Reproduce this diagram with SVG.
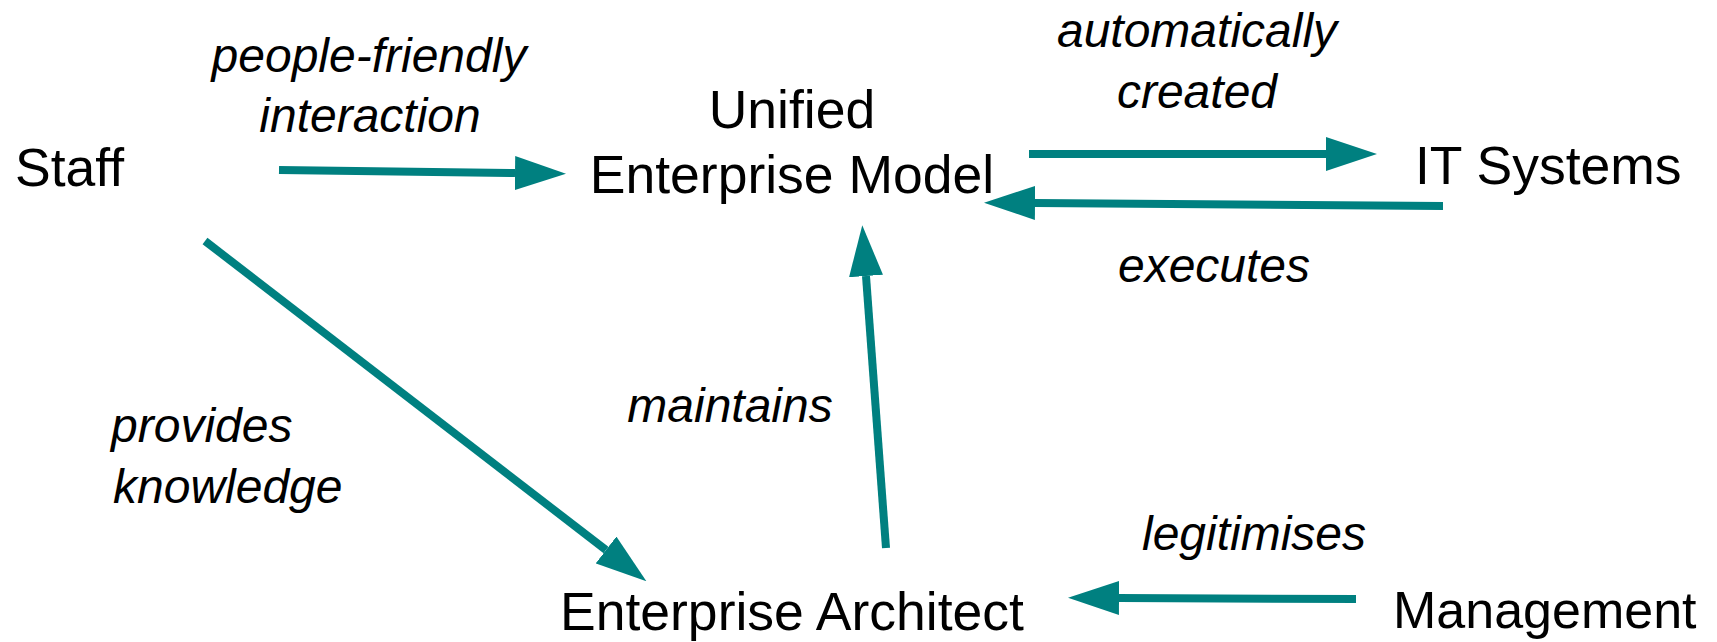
<svg xmlns="http://www.w3.org/2000/svg" width="1717" height="642" viewBox="0 0 1717 642">
  <style>
    .node { font-family: "Liberation Sans", Arial, sans-serif; font-size: 53.5px; fill: #000; }
    .lbl { font-family: "Liberation Sans", Arial, sans-serif; font-size: 48px; font-style: italic; fill: #000; }
    .edge { stroke: #008080; stroke-width: 8; fill: none; marker-end: url(#arrow); }
  </style>
  <defs>
    <marker id="arrow" viewBox="0 0 51 34" markerWidth="51" markerHeight="34" markerUnits="userSpaceOnUse" refX="0" refY="17" orient="auto">
      <path d="M0,0 L51,17 L0,34 Z" fill="#008080"/>
    </marker>
  </defs>
  <rect width="1717" height="642" fill="#fff"/>

  <g id="connectors">
    <g id="e-staff-uem">
      <line class="edge" x1="279" y1="170" x2="515" y2="173"/>
      <text class="lbl" x="369" y="72" text-anchor="middle">people-friendly</text>
      <text class="lbl" x="370" y="132" text-anchor="middle">interaction</text>
    </g>
    <g id="e-uem-it">
      <line class="edge" x1="1029" y1="154" x2="1326" y2="154"/>
      <text class="lbl" x="1197" y="47" text-anchor="middle">automatically</text>
      <text class="lbl" x="1197" y="108" text-anchor="middle">created</text>
    </g>
    <g id="e-it-uem">
      <line class="edge" x1="1443" y1="206" x2="1035" y2="203"/>
      <text class="lbl" x="1214" y="282" text-anchor="middle">executes</text>
    </g>
    <g id="e-staff-ea">
      <line class="edge" x1="205" y1="241" x2="606" y2="550"/>
      <text class="lbl" x="111" y="442">provides</text>
      <text class="lbl" x="113" y="503">knowledge</text>
    </g>
    <g id="e-ea-uem">
      <line class="edge" x1="886" y1="548" x2="866" y2="276"/>
      <text class="lbl" x="730" y="422" text-anchor="middle">maintains</text>
    </g>
    <g id="e-mgmt-ea">
      <line class="edge" x1="1356" y1="599" x2="1119" y2="598"/>
      <text class="lbl" x="1254" y="550" text-anchor="middle">legitimises</text>
    </g>
  </g>

  <g id="staff">
    <text class="node" x="15" y="186">Staff</text>
  </g>
  <g id="uem">
    <text class="node" x="792" y="128" text-anchor="middle">Unified</text>
    <text class="node" x="792" y="193" text-anchor="middle">Enterprise Model</text>
  </g>
  <g id="it-systems">
    <text class="node" x="1415" y="184">IT Systems</text>
  </g>
  <g id="enterprise-architect">
    <text class="node" x="560" y="630">Enterprise Architect</text>
  </g>
  <g id="management">
    <text class="node" x="1393" y="628" style="font-size:52px">Management</text>
  </g>
</svg>
